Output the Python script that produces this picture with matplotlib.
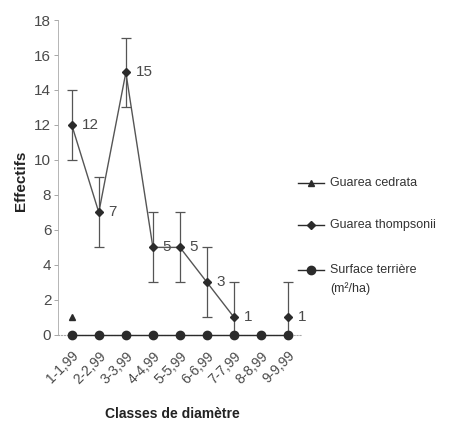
import matplotlib.pyplot as plt
import numpy as np
from matplotlib.lines import Line2D

classes = ["1-1,99", "2-2,99", "3-3,99", "4-4,99", "5-5,99",
           "6-6,99", "7-7,99", "8-8,99", "9-9,99"]
cedrata = [1, np.nan, np.nan, np.nan, np.nan, np.nan, np.nan, np.nan, np.nan]
thompsonii = [12, 7, 15, 5, 5, 3, 1, np.nan, 1]
thompsonii_err = [2, 2, 2, 2, 2, 2, 2, np.nan, 2]
surface = [0, 0, 0, 0, 0, 0, 0, 0, 0]

narrow = ["Liberation Sans Narrow", "Liberation Sans", "DejaVu Sans"]
plt.rcParams["font.family"] = ["Liberation Sans", "DejaVu Sans"]

dark = "#2b2b2b"
grey = "#555555"
tick_col = "#4a4a4a"

fig = plt.figure(figsize=(4.55, 4.26), dpi=100)
ax = fig.add_axes([0.128, 0.214, 0.535, 0.739])

x = np.arange(len(classes))

# surface terriere along the baseline
ax.plot(x, surface, color=dark, lw=1.0, marker="o", ms=6, zorder=4, clip_on=False)

# Guarea thompsonii with error bars
ax.errorbar(x, thompsonii, yerr=thompsonii_err, color=grey, lw=1.0,
            marker="D", ms=4, mfc=dark, mec=dark, ecolor=grey, elinewidth=0.9,
            capsize=3.5, capthick=0.9, zorder=3)
for xi, v in zip(x, thompsonii):
    if not np.isnan(v):
        ax.annotate(f"{v:g}", (xi, v), xytext=(7, 0), textcoords="offset points",
                    ha="left", va="center", fontsize=11, color=tick_col)

# Guarea cedrata
ax.plot(x, cedrata, color=dark, lw=1.0, marker="^", ms=5, ls="none", zorder=4)

ax.set_xlim(-0.5, len(classes) - 0.5)
ax.set_ylim(0, 18)
ax.set_yticks(np.arange(0, 19, 2))
ax.set_xticks(x)
ax.set_xticklabels(classes, rotation=45, ha="right", rotation_mode="anchor")
ax.tick_params(axis="y", colors="#999999", labelcolor=tick_col, labelsize=11, length=3, width=0.6, pad=2)
ax.tick_params(axis="x", length=0, labelcolor=tick_col, labelsize=10, pad=10)
for lab in ax.get_xticklabels():
    lab.set_family(narrow)

for s in ["top", "right"]:
    ax.spines[s].set_visible(False)
ax.spines["left"].set_color("#aaaaaa")
ax.spines["left"].set_linewidth(0.6)
ax.spines["bottom"].set_color("#aaaaaa")
ax.spines["bottom"].set_linestyle(":")
ax.spines["bottom"].set_linewidth(0.8)

ax.set_ylabel("Effectifs", fontsize=11, fontweight="bold", color="#222222")
ax.yaxis.set_label_coords(-0.125, 0.49)
ax.set_xlabel("Classes de diamètre", fontsize=10, fontweight="bold", color="#222222",
              family=narrow)
ax.xaxis.set_label_coords(0.47, -0.228)

# legend drawn on the right
entries = [("^", 5, "Guarea cedrata", 1 - 183 / 426),
           ("D", 4, "Guarea thompsonii", 1 - 225 / 426),
           ("o", 6, "Surface terrière\n(m²/ha)", 1 - 270 / 426)]
for mk, size, text, yy in entries:
    fig.add_artist(Line2D([298 / 455, 324 / 455], [yy, yy], color=dark, lw=1.0,
                          transform=fig.transFigure))
    fig.add_artist(Line2D([311 / 455], [yy], color=dark, marker=mk, ms=size,
                          ls="none", transform=fig.transFigure))
    fig.text(330 / 455, yy + 0.013, text, ha="left", va="top", fontsize=9,
             color="#333333", family=narrow, linespacing=1.6)

fig.savefig("out.png", dpi=100, facecolor="white")
